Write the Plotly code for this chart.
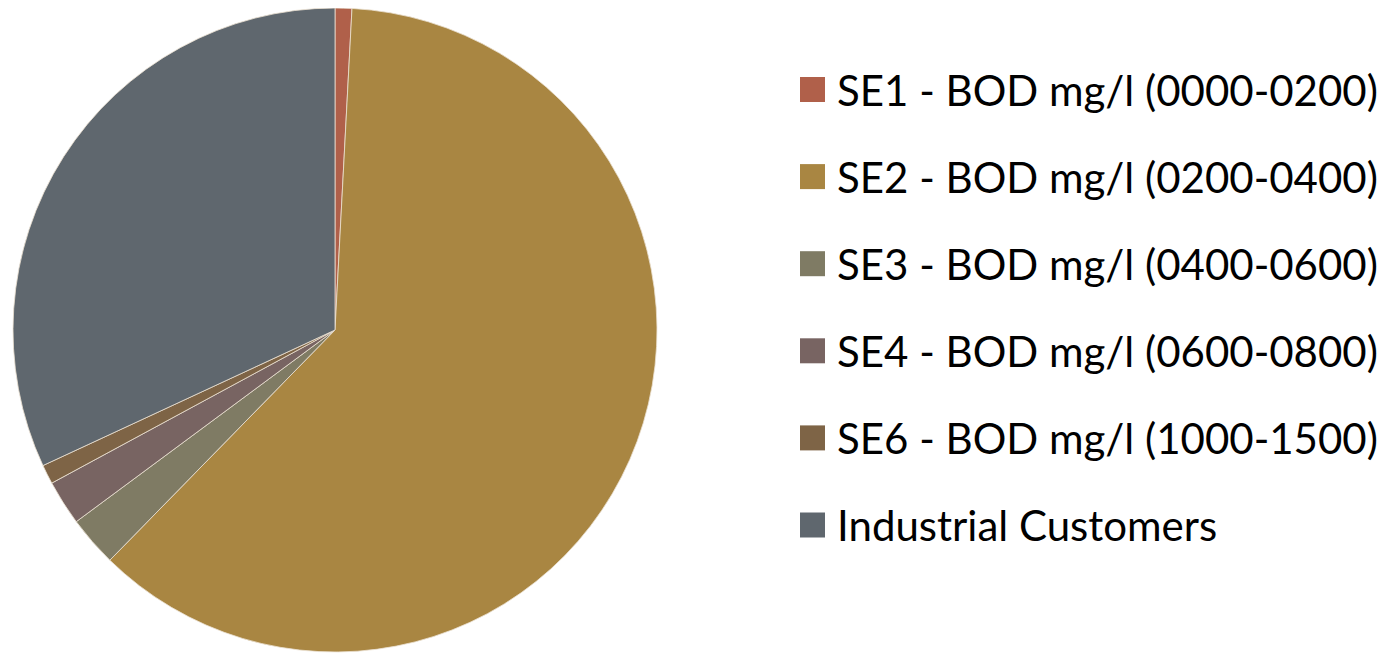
import plotly.graph_objects as go

labels = [
    "SE1 - BOD mg/l (0000-0200)",
    "SE2 - BOD mg/l (0200-0400)",
    "SE3 - BOD mg/l (0400-0600)",
    "SE4 - BOD mg/l (0600-0800)",
    "SE6 - BOD mg/l (1000-1500)",
    "Industrial Customers",
]
values = [0.84, 61.49, 2.53, 2.26, 0.97, 31.92]
colors = ["#B0604A", "#A98642", "#7F7B64", "#786462", "#7E6446", "#5F676E"]

W, H = 1392, 653
OFF = 8  # default page body margin

def px(x):
    return (x - OFF) / W

def py(y):
    return min(1.0, max(0.0, 1 - (y - OFF) / H))

fig = go.Figure()
fig.add_trace(go.Pie(
    labels=labels,
    values=values,
    sort=False,
    direction="clockwise",
    rotation=0,
    marker=dict(colors=colors, line=dict(color="rgba(235,225,210,0.8)", width=1)),
    textinfo="none",
    hoverinfo="label+percent",
    showlegend=False,
    domain=dict(x=[px(13), px(657)], y=[py(652), 1.0]),
))

# legend drawn as squares + text
y0 = 89.5
dy = 87.1
shapes = []
annotations = []
for i, (lab, col) in enumerate(zip(labels, colors)):
    cy = y0 + i * dy
    shapes.append(dict(
        type="rect", xref="paper", yref="paper",
        x0=px(800), x1=px(825),
        y0=py(cy + 12.5), y1=py(cy - 12.5),
        fillcolor=col, line=dict(width=0),
    ))
    annotations.append(dict(
        text=lab, xref="paper", yref="paper",
        x=px(835), y=py(cy), xanchor="left", yanchor="middle",
        showarrow=False,
        font=dict(family="Lato", size=42, color="#000000"),
    ))

fig.update_layout(
    width=W, height=H,
    margin=dict(l=0, r=0, t=0, b=0),
    paper_bgcolor="white",
    plot_bgcolor="white",
    shapes=shapes,
    annotations=annotations,
)

fig.write_html("out.html")
